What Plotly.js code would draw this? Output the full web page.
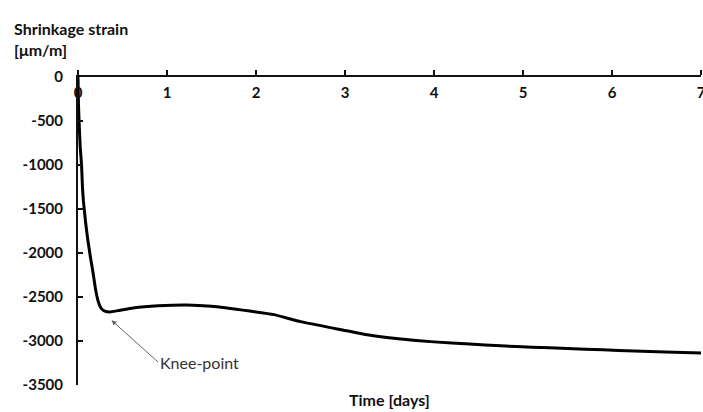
<!DOCTYPE html>
<html><head><meta charset="utf-8">
<script src="https://cdn.plot.ly/plotly-3.0.1.min.js"></script>
<style>html,body{margin:0;padding:0;background:#fff;}#chart{width:703px;height:412px;}</style>
</head><body><div id="chart"></div>
<script>
const timeDays = [0, 0.005, 0.012, 0.025, 0.04, 0.05, 0.06, 0.085, 0.11, 0.14, 0.17, 0.2, 0.23, 0.26, 0.3, 0.36, 0.45, 0.62, 0.9, 1.22, 1.5, 1.93, 2.2, 2.5, 3.0, 3.25, 3.6, 4.0, 4.4, 4.75, 5.1, 5.5, 5.9, 6.25, 6.6, 7.0];
const strain = [0, -300, -500, -800, -1000, -1250, -1400, -1650, -1850, -2050, -2230, -2430, -2560, -2630, -2660, -2670, -2655, -2625, -2600, -2590, -2605, -2660, -2700, -2780, -2880, -2930, -2975, -3010, -3035, -3055, -3070, -3085, -3100, -3115, -3125, -3135];
const xTicks = [0, 1, 2, 3, 4, 5, 6, 7];
const yTicks = [0, -500, -1000, -1500, -2000, -2500, -3000, -3500];
const kneeT = 0.36, kneeV = -2670;

const FONT = 'Lato, "Open Sans", sans-serif';
const trace = {x: timeDays, y: strain, mode: 'lines', line: {color: '#000', width: 3, shape: 'spline', smoothing: 0.35}, hoverinfo: 'skip'};

const layout = {
  width: 703, height: 412,
  margin: {l: 78, r: 2, t: 77, b: 27},
  paper_bgcolor: '#fff', plot_bgcolor: '#fff',
  showlegend: false,
  font: {family: FONT, color: '#111'},
  xaxis: {
    range: [0, 7], side: 'top', tickvals: xTicks, ticktext: xTicks.map(String),
    ticks: 'outside', ticklen: 5, tickwidth: 1.5, tickcolor: '#111',
    ticklabelposition: 'inside', ticklabeloverflow: 'allow', ticklabelstandoff: 10,
    showline: true, linecolor: '#111', linewidth: 2, showgrid: false, zeroline: false,
    tickfont: {family: FONT, size: 15, color: '#111', weight: 'bold'}, fixedrange: true
  },
  xaxis2: {
    range: [0, 7], overlaying: 'x', side: 'top', anchor: 'y', tickvals: xTicks,
    ticks: 'inside', ticklen: 5, tickwidth: 1.5, tickcolor: '#111',
    showticklabels: false, showline: false, showgrid: false, zeroline: false
  },
  yaxis: {
    range: [-3500, 0], tickvals: yTicks, ticktext: yTicks.map(String),
    ticks: 'inside', ticklen: 5, tickwidth: 1.5, tickcolor: '#111', ticklabelstandoff: 10,
    showline: true, linecolor: '#111', linewidth: 2, showgrid: false, zeroline: false,
    tickfont: {family: FONT, size: 15, color: '#111', weight: 'bold'}, fixedrange: true
  },
  annotations: [
    {xref: 'paper', yref: 'paper', x: -0.106, y: 1.195, xanchor: 'left', yanchor: 'top', align: 'left',
     text: 'Shrinkage strain<br>[μm/m]', showarrow: false,
     font: {family: FONT, size: 16, color: '#111', weight: 'bold'}},
    {xref: 'x', yref: 'paper', x: 3.5, y: -0.01, yanchor: 'top', text: 'Time [days]', showarrow: false,
     font: {family: FONT, size: 16, color: '#111', weight: 'bold'}},
    {xref: 'x', yref: 'y', x: kneeT, y: kneeV - 80, text: 'Knee-point', showarrow: true,
     ax: 48, ay: 43, xanchor: 'left', arrowhead: 2, arrowsize: 1, arrowwidth: 1, arrowcolor: '#666', standoff: 2,
     font: {family: FONT, size: 16, color: '#333'}}
  ]
};
Plotly.newPlot('chart', [trace], layout, {staticPlot: true, displayModeBar: false});
</script></body></html>
